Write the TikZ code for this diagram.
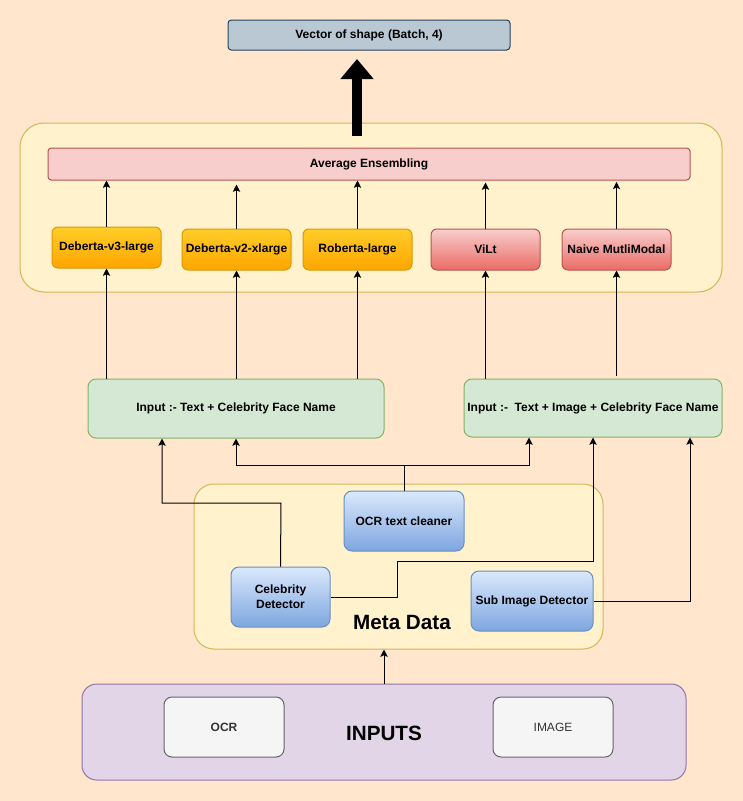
\documentclass[tikz,border=0pt]{standalone}
\usepackage{fontspec}
\setmainfont{Liberation Sans}
\usetikzlibrary{arrows.meta}
\definecolor{bgc}{HTML}{FFE6CC}
\definecolor{yelf}{HTML}{FFF2CC}
\definecolor{yeld}{HTML}{D6B656}
\definecolor{vecf}{HTML}{BAC8D3}
\definecolor{vecd}{HTML}{23445D}
\definecolor{redf}{HTML}{F8CECC}
\definecolor{redd}{HTML}{B85450}
\definecolor{redg}{HTML}{EA6B66}
\definecolor{orf}{HTML}{FFCD28}
\definecolor{org}{HTML}{FFA500}
\definecolor{ord}{HTML}{D79B00}
\definecolor{grf}{HTML}{D5E8D4}
\definecolor{grd}{HTML}{82B366}
\definecolor{blf}{HTML}{DAE8FC}
\definecolor{blg}{HTML}{7EA6E0}
\definecolor{bld}{HTML}{6C8EBF}
\definecolor{puf}{HTML}{E1D5E7}
\definecolor{pud}{HTML}{9673A6}
\definecolor{gyf}{HTML}{F5F5F5}
\definecolor{gyd}{HTML}{666666}
\definecolor{gyt}{HTML}{333333}
\tikzset{
  wh/.style 2 args={minimum width=#1*0.75pt, minimum height=#2*0.75pt, inner sep=0pt},
  base/.style={draw, line width=0.75pt, align=center, font=\fontsize{9}{11}\selectfont\bfseries},
  container/.style={base, fill=yelf, draw=yeld, rounded corners=18pt},
  vecbox/.style={base, fill=vecf, draw=vecd, rounded corners=2.5pt},
  avgbox/.style={base, fill=redf, draw=redd, rounded corners=2.5pt},
  orbox/.style={base, top color=orf, bottom color=org, draw=ord, rounded corners=4.5pt},
  rdbox/.style={base, top color=redf, bottom color=redg, draw=redd, rounded corners=4.5pt},
  grbox/.style={base, fill=grf, draw=grd, rounded corners=6pt},
  blbox/.style={base, top color=blf, bottom color=blg, draw=bld, rounded corners=6pt},
  gybox/.style={base, fill=gyf, draw=gyd, text=gyt, rounded corners=6pt},
  conn/.style={line width=0.75pt, -{Stealth[length=5.5pt,width=5.5pt,inset=1.2pt]}},
}
\begin{document}
\begin{tikzpicture}[x=0.75pt, y=-0.75pt]
\fill[bgc] (0,0) rectangle (743,801);
\useasboundingbox (0,0) rectangle (743,801);

% containers
\node[container, wh={702}{169}] (outer) at (371,207.5) {};
\node[container, wh={409}{165}, rounded corners=15pt] (meta) at (398.5,566.5) {};
\node[base, fill=puf, draw=pud, rounded corners=11pt, wh={604}{96}] (inputs) at (384,732) {};

% top
\node[vecbox, wh={282}{30}] (vec) at (369,35) {Vector of shape (Batch, 4)};
\node[avgbox, wh={642}{32}] (avg) at (369,164) {Average Ensembling};

% models
\node[orbox, wh={109}{41}] (m1) at (106.5,247.5) {Deberta-v3-large};
\node[orbox, wh={109}{41}] (m2) at (236.5,249.5) {Deberta-v2-xlarge};
\node[orbox, wh={109}{41}] (m3) at (357.5,249.5) {Roberta-large};
\node[rdbox, wh={109}{41}] (m4) at (485.5,249.5) {ViLt};
\node[rdbox, wh={109}{41}] (m5) at (616.5,249.5) {Naive MutliModal};

% input descriptions
\node[grbox, wh={296}{59}] (in1) at (236,408.5) {Input :- Text + Celebrity Face Name};
\node[grbox, wh={258}{58}] (in2) at (593,408) {Input :-\ \ Text + Image + Celebrity Face Name};

% meta data
\node[blbox, wh={120}{60}] (ocrc) at (404,521) {OCR text cleaner};
\node[blbox, wh={99}{60}] (celeb) at (280.5,597) {Celebrity\\Detector};
\node[blbox, wh={122}{60}] (sub) at (532,601) {Sub Image Detector};
\node[font=\fontsize{15.5}{18}\selectfont\bfseries, inner sep=0pt] (metalbl) at (402,622) {Meta Data};

% inputs
\node[gybox, wh={120}{60}] (ocr) at (224,727) {OCR};
\node[gybox, wh={120}{60}, font=\fontsize{9}{11}\selectfont] (image) at (553,727) {IMAGE};
\node[font=\fontsize{15.5}{18}\selectfont\bfseries, inner sep=0pt] (inlbl) at (384,733) {INPUTS};

% big arrow
\coordinate (bigs) at (357,136);
\coordinate (bige) at (357,59);
\draw[line width=7.5pt, -{Triangle[length=15pt,width=24pt]}] (bigs) -- (bige);

% models -> average
\draw[conn] (m1.north) -- (m1.north |- avg.south);
\draw[conn, shorten >=3pt] (m2.north) -- (m2.north |- avg.south);
\draw[conn] (m3.north) -- (m3.north |- avg.south);
\draw[conn, shorten >=1.5pt] (m4.north) -- (m4.north |- avg.south);
\draw[conn, shorten >=1pt] (m5.north) -- (m5.north |- avg.south);

% inputs -> models
\draw[conn] (m1.south |- in1.north) -- (m1.south);
\draw[conn] (m2.south |- in1.north) -- (m2.south);
\draw[conn] (m3.south |- in1.north) -- (m3.south);
\draw[conn] (m4.south |- in2.north) -- (m4.south);
\draw[conn, shorten <=2.25pt] (m5.south |- in2.north) -- (m5.south);

% meta -> input boxes
\coordinate (jo) at (404,465);
\draw[conn] (ocrc.north) -- (jo) -| (in1.south);
\draw[conn] (jo) -| ([xshift=-48pt]in2.south);
\coordinate (cj) at (281,503);
\draw[conn] (celeb.north) -- (cj) -| ([xshift=-55.5pt]in1.south);
\coordinate (cr) at (397,597);
\coordinate (cr2) at (397,561);
\draw[conn] (celeb.east) -- (cr) -- (cr2) -| (in2.south);
\draw[conn] (sub.east) -| ([xshift=72.75pt]in2.south);

% inputs -> meta
\draw[conn] (inputs.north -| 384,0) -- (meta.south -| 384,0);
\end{tikzpicture}
\end{document}
